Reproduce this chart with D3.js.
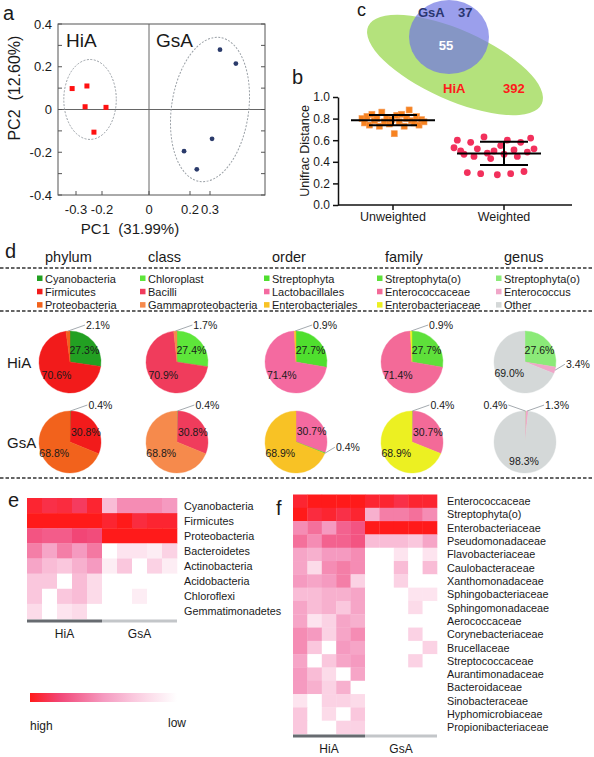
<!DOCTYPE html>
<html><head><meta charset="utf-8">
<script src="https://cdn.jsdelivr.net/npm/d3@7"></script>
<style>
body{margin:0;background:#fff}
svg{font-family:"Liberation Sans",Arial,sans-serif}
</style>
</head><body>
<svg id="c" width="594" height="757"></svg>
<script>
// ---------------- DATA ----------------
// Panel a: PCoA
const pcoaGroups = ["HiA", "GsA"];
const hiaPC1 = [-0.315, -0.258, -0.265, -0.183, -0.231];
const hiaPC2 = [0.098, 0.110, 0.013, 0.010, -0.106];
const gsaPC1 = [0.349, 0.427, 0.310, 0.171, 0.234];
const gsaPC2 = [0.280, 0.215, -0.137, -0.195, -0.280];
const pc1Ticks = [-0.3, -0.2, 0, 0.2, 0.3];
const pc2Ticks = [-0.4, -0.2, 0, 0.2, 0.4];
// confidence ellipses [cx, cy, rx, ry] in PC units
const hiaEllipse = [-0.246, 0.047, 0.104, 0.187];
const gsaEllipse = [0.300, 0.000, 0.190, 0.340];

// Panel b: Unifrac distances
const unifracCats = ["Unweighted", "Weighted"];
const unweightedVals = [0.80, 0.76, 0.82, 0.74, 0.84, 0.78, 0.80, 0.73, 0.86, 0.77, 0.81, 0.75, 0.79, 0.66,
  0.83, 0.77, 0.84, 0.73, 0.80, 0.88, 0.78, 0.76, 0.82, 0.74, 0.79, 0.77];
const weightedVals = [0.53, 0.60, 0.50, 0.47, 0.30, 0.58, 0.45, 0.52, 0.29, 0.63, 0.48, 0.43, 0.50,
  0.28, 0.55, 0.47, 0.60, 0.29, 0.51, 0.45, 0.58, 0.31, 0.49, 0.62, 0.52];
const unifracTicks = [0, 0.2, 0.4, 0.6, 0.8, 1.0];

// Panel c: Venn
const vennSets = ["GsA", "HiA"];
const vennUnique = [37, 392];
const vennShared = 55;

// Panel d: composition pies
const ranks = ["phylum", "class", "order", "family", "genus"];
const rankTaxa = [
  ["Cyanobacteria", "Firmicutes", "Proteobacteria"],
  ["Chloroplast", "Bacilli", "Gammaproteobacteria"],
  ["Streptophyta", "Lactobacillales", "Enterobacteriales"],
  ["Streptophyta(o)", "Enterococcaceae", "Enterobacteriaceae"],
  ["Streptophyta(o)", "Enterococcus", "Other"]
];
const rankColors = [
  ["#22a022", "#f21b1b", "#f2621c"],
  ["#5ee63a", "#f03c5c", "#f68a4c"],
  ["#4fdf2e", "#f46aa0", "#f8c225"],
  ["#5ee03a", "#f36a98", "#ecf022"],
  ["#8bea78", "#f0a6c8", "#d4d8d8"]
];
const pieSamples = ["HiA", "GsA"];
const hiaPct = [[27.3, 70.6, 2.1], [27.4, 70.9, 1.7], [27.7, 71.4, 0.9], [27.7, 71.4, 0.9], [27.6, 3.4, 69.0]];
const gsaPct = [[0.4, 30.8, 68.8], [0.4, 30.8, 68.8], [0.4, 30.7, 68.9], [0.4, 30.7, 68.9], [0.4, 1.3, 98.3]];
// clockwise drawing sequence of the taxa in each GsA pie
const gsaSliceSeq = [[0, 1, 2], [0, 1, 2], [1, 0, 2], [0, 1, 2], [0, 1, 2]];

// Panel e: phylum heatmap (relative intensity 0..1)
const eTaxa = ["Cyanobacteria", "Firmicutes", "Proteobacteria", "Bacteroidetes", "Actinobacteria",
  "Acidobacteria", "Chloroflexi", "Gemmatimonadetes"];
const heatGroups = ["HiA", "GsA"];
const eValues = [
  [0.95, 0.90, 0.92, 0.85, 0.95, 0.35, 0.55, 0.55, 0.55, 0.50],
  [1.00, 1.00, 1.00, 1.00, 1.00, 0.95, 1.00, 0.92, 0.95, 0.95],
  [0.75, 0.72, 0.72, 0.80, 0.78, 1.00, 1.00, 1.00, 1.00, 1.00],
  [0.60, 0.45, 0.60, 0.50, 0.62, 0.00, 0.15, 0.15, 0.10, 0.25],
  [0.45, 0.35, 0.30, 0.40, 0.50, 0.10, 0.30, 0.00, 0.25, 0.10],
  [0.30, 0.30, 0.00, 0.35, 0.20, 0.00, 0.00, 0.00, 0.00, 0.00],
  [0.30, 0.00, 0.30, 0.35, 0.20, 0.00, 0.00, 0.10, 0.00, 0.00],
  [0.20, 0.00, 0.15, 0.20, 0.00, 0.00, 0.00, 0.00, 0.00, 0.00]
];
// Panel f: family heatmap
const fTaxa = ["Enterococcaceae", "Streptophyta(o)", "Enterobacteriaceae", "Pseudomonadaceae",
  "Flavobacteriaceae", "Caulobacteraceae", "Xanthomonadaceae", "Sphingobacteriaceae",
  "Sphingomonadaceae", "Aerococcaceae", "Corynebacteriaceae", "Brucellaceae", "Streptococcaceae",
  "Aurantimonadaceae", "Bacteroidaceae", "Sinobacteraceae", "Hyphomicrobiaceae", "Propionibacteriaceae"];
const fValues = [
  [0.95, 1.00, 1.00, 1.00, 1.00, 0.95, 0.95, 0.90, 0.95, 0.95],
  [1.00, 0.92, 0.95, 0.90, 0.95, 0.40, 0.60, 0.60, 0.65, 0.55],
  [0.55, 0.65, 0.50, 0.70, 0.75, 1.00, 1.00, 1.00, 1.00, 1.00],
  [0.65, 0.55, 0.70, 0.70, 0.75, 0.35, 0.35, 0.35, 0.30, 0.45],
  [0.45, 0.40, 0.50, 0.50, 0.55, 0.00, 0.00, 0.15, 0.00, 0.15],
  [0.45, 0.20, 0.55, 0.60, 0.55, 0.00, 0.00, 0.35, 0.00, 0.35],
  [0.50, 0.45, 0.50, 0.60, 0.25, 0.00, 0.00, 0.25, 0.00, 0.00],
  [0.35, 0.35, 0.40, 0.40, 0.45, 0.00, 0.00, 0.00, 0.15, 0.15],
  [0.45, 0.35, 0.40, 0.30, 0.45, 0.00, 0.00, 0.00, 0.20, 0.00],
  [0.45, 0.15, 0.25, 0.45, 0.40, 0.00, 0.00, 0.00, 0.00, 0.00],
  [0.55, 0.50, 0.25, 0.45, 0.55, 0.00, 0.00, 0.00, 0.25, 0.00],
  [0.55, 0.30, 0.00, 0.50, 0.45, 0.00, 0.00, 0.00, 0.00, 0.25],
  [0.45, 0.00, 0.30, 0.45, 0.50, 0.00, 0.00, 0.00, 0.25, 0.00],
  [0.50, 0.35, 0.20, 0.00, 0.45, 0.00, 0.00, 0.00, 0.00, 0.00],
  [0.50, 0.40, 0.25, 0.40, 0.00, 0.00, 0.00, 0.00, 0.00, 0.00],
  [0.15, 0.00, 0.25, 0.25, 0.20, 0.00, 0.00, 0.00, 0.00, 0.00],
  [0.30, 0.00, 0.20, 0.00, 0.30, 0.00, 0.00, 0.00, 0.00, 0.00],
  [0.30, 0.00, 0.00, 0.25, 0.25, 0.00, 0.00, 0.00, 0.00, 0.00]
];
const scaleEnds = ["high", "low"];

// ---------------- DRAW ----------------
const svg = d3.select("#c");
function txt(g, x, y, s, size, opts = {}) {
  const t = g.append("text").attr("x", x).attr("y", y).text(s).attr("font-size", size)
    .attr("fill", opts.fill || "#1a1a1a");
  if (opts.anchor) t.attr("text-anchor", opts.anchor);
  if (opts.weight) t.attr("font-weight", opts.weight);
  if (opts.base) t.attr("dominant-baseline", opts.base);
  return t;
}

// ===== Panel a =====
const ga = svg.append("g");
const ax = d3.scaleLinear().domain([-0.37, -0.3, -0.2, 0, 0.2, 0.3, 0.57]).range([58, 76, 102, 149, 190, 210, 265]);
const ay = d3.scaleLinear().domain([-0.4, 0.4]).range([195, 24]);
txt(ga, 3, 20, "a", 20);
ga.append("rect").attr("x", ax(-0.37)).attr("y", ay(0.4)).attr("width", ax(0.57) - ax(-0.37))
  .attr("height", ay(-0.4) - ay(0.4)).attr("fill", "none").attr("stroke", "#555").attr("stroke-width", 1);
ga.append("line").attr("x1", ax(0)).attr("x2", ax(0)).attr("y1", ay(0.4)).attr("y2", ay(-0.4)).attr("stroke", "#666");
ga.append("line").attr("x1", ax(-0.37)).attr("x2", ax(0.57)).attr("y1", ay(0)).attr("y2", ay(0)).attr("stroke", "#666");
d3.ticks(-0.4, 0.4, 8).forEach(v => {
  ga.append("line").attr("x1", ax(-0.37)).attr("x2", ax(-0.37) + 4).attr("y1", ay(v)).attr("y2", ay(v)).attr("stroke", "#555");
  ga.append("line").attr("x1", ax(0.57)).attr("x2", ax(0.57) - 4).attr("y1", ay(v)).attr("y2", ay(v)).attr("stroke", "#555");
});
pc2Ticks.forEach(v => txt(ga, 52, ay(v), v === 0 ? "0" : String(v), 13, {anchor: "end", base: "central"}));
pc1Ticks.forEach(v => {
  ga.append("line").attr("x1", ax(v)).attr("x2", ax(v)).attr("y1", ay(-0.4)).attr("y2", ay(-0.4) - 4).attr("stroke", "#555");
  txt(ga, ax(v), 214, v === 0 ? "0" : String(v), 13, {anchor: "middle"});
});
txt(ga, 130, 234, "PC1  (31.99%)", 15, {anchor: "middle"}).style("white-space", "pre");
txt(ga, 0, 0, "PC2  (12.60%)", 16, {anchor: "middle"}).style("white-space", "pre")
  .attr("transform", `translate(20,${ay(0.1)}) rotate(-90)`);
txt(ga, 66, 47, pcoaGroups[0], 19);
txt(ga, 156, 47, pcoaGroups[1], 19);
function drawEll(e, rot) {
  const cx = ax(e[0]), cy = ay(e[1]);
  const rx = (ax(e[0] + e[2]) - ax(e[0] - e[2])) / 2, ry = (ay(e[1] - e[3]) - ay(e[1] + e[3])) / 2;
  ga.append("ellipse").attr("cx", cx).attr("cy", cy).attr("rx", rx).attr("ry", ry)
    .attr("transform", `rotate(${rot},${cx},${cy})`)
    .attr("fill", "none").attr("stroke", "#9aa0a6").attr("stroke-dasharray", "2,1.5").attr("stroke-width", 1);
}
drawEll(hiaEllipse, 0);
drawEll(gsaEllipse, 8);
hiaPC1.forEach((v, i) => ga.append("rect").attr("x", ax(v) - 2.5).attr("y", ay(hiaPC2[i]) - 2.5)
  .attr("width", 5).attr("height", 5).attr("fill", "#ff1111"));
gsaPC1.forEach((v, i) => ga.append("circle").attr("cx", ax(v)).attr("cy", ay(gsaPC2[i])).attr("r", 2.4)
  .attr("fill", "#2b3b6b"));

// ===== Panel c: Venn =====
const gc = svg.append("g");
gc.append("ellipse").attr("cx", 455).attr("cy", 65).attr("rx", 95).attr("ry", 35)
  .attr("transform", "rotate(24,455,65)").attr("fill", "#b4e27c");
gc.append("ellipse").attr("cx", 449).attr("cy", 37).attr("rx", 40).attr("ry", 37)
  .attr("fill", "rgb(112,118,228)").attr("opacity", 0.7);
txt(gc, 357, 16, "c", 18);
txt(gc, 418, 17, vennSets[0], 13, {fill: "#2a3670", weight: "bold"});
txt(gc, 458, 17, String(vennUnique[0]), 13, {fill: "#2a3670", weight: "bold"});
txt(gc, 446, 50, String(vennShared), 13, {fill: "#ffffff", weight: "bold", anchor: "middle"});
txt(gc, 443, 93, vennSets[1], 13, {fill: "#ff1a1a", weight: "bold"});
txt(gc, 503, 93, String(vennUnique[1]), 13, {fill: "#ff1a1a", weight: "bold"});

// ===== Panel b =====
const gb = svg.append("g");
const by = d3.scaleLinear().domain([0, 1]).range([205, 97]);
const bx = d3.scalePoint().domain(unifracCats).range([393, 504]);
txt(gb, 292, 84, "b", 20);
gb.append("g").attr("transform", "translate(338,0)")
  .call(d3.axisLeft(by).tickValues(unifracTicks).tickFormat(d3.format(".1f")).tickSize(5).tickSizeOuter(0))
  .call(g => { g.selectAll("text").attr("font-size", 12).attr("fill", "#1a1a1a").attr("font-family", null);
    g.selectAll("line,path").attr("stroke", "#111").attr("stroke-width", 1.5); });
gb.append("line").attr("x1", 338).attr("x2", 572).attr("y1", by(0)).attr("y2", by(0)).attr("stroke", "#111").attr("stroke-width", 1.5);
unifracCats.forEach(c => {
  gb.append("line").attr("x1", bx(c)).attr("x2", bx(c)).attr("y1", by(0)).attr("y2", by(0) + 5).attr("stroke", "#111").attr("stroke-width", 1.5);
  txt(gb, bx(c), 221, c, 12.5, {anchor: "middle"});
});
txt(gb, 0, 0, "Unifrac Distance", 12.5, {anchor: "middle"}).attr("transform", "translate(309,151) rotate(-90)");
const spreadU = 62, spreadW = 80;
unweightedVals.forEach((v, i) => {
  const x = bx("Unweighted") + (i / (unweightedVals.length - 1) - 0.5) * spreadU;
  gb.append("rect").attr("x", x - 3).attr("y", by(v) - 3).attr("width", 6).attr("height", 6)
    .attr("fill", "#f7821f").attr("stroke", "#f39a55").attr("stroke-width", 0.6);
});
weightedVals.forEach((v, i) => {
  const x = bx("Weighted") - 10 + (i / (weightedVals.length - 1) - 0.5) * spreadW;
  gb.append("circle").attr("cx", x).attr("cy", by(v)).attr("r", 3.4).attr("fill", "#f2305c");
});
[["Unweighted", unweightedVals], ["Weighted", weightedVals]].forEach(([c, vals]) => {
  const m = d3.mean(vals), sd = d3.deviation(vals), cx = bx(c);
  const k = c === "Weighted" ? -5 : 0;
  gb.append("line").attr("x1", cx - 42 + k).attr("x2", cx + 42 + k).attr("y1", by(m)).attr("y2", by(m)).attr("stroke", "#000").attr("stroke-width", 2);
  [m - sd, m + sd].forEach(y => gb.append("line").attr("x1", cx - 24).attr("x2", cx + 24).attr("y1", by(y)).attr("y2", by(y)).attr("stroke", "#000").attr("stroke-width", 2));
  gb.append("line").attr("x1", cx).attr("x2", cx).attr("y1", by(m - sd)).attr("y2", by(m + sd)).attr("stroke", "#000").attr("stroke-width", 2);
});

// ===== Panel d =====
const gd = svg.append("g");
txt(gd, 5, 258, "d", 20);
const colX = [45, 148, 272, 385, 504];
const pieCX = [70, 177, 296, 412, 525];
const pieCY = [362, 442];
const R = 31;
[268, 311, 478].forEach(y => gd.append("line").attr("x1", 0).attr("x2", 594).attr("y1", y).attr("y2", y)
  .attr("stroke", "#333").attr("stroke-width", 1.3).attr("stroke-dasharray", "3.5,2"));
ranks.forEach((r, i) => {
  txt(gd, colX[i], 262, r, 14.5);
  rankTaxa[i].forEach((t, j) => {
    const y = 278.5 + j * 13.3;
    gd.append("rect").attr("x", colX[i] - 8).attr("y", y - 3).attr("width", 5.5).attr("height", 5.5).attr("fill", rankColors[i][j]);
    txt(gd, colX[i], y, t, 11, {base: "central"});
  });
});
pieSamples.forEach((s, k) => txt(gd, 7, pieCY[k], s, 15, {base: "central"}));
const arc = d3.arc().innerRadius(0).outerRadius(R);
const pie = d3.pie().sort(null).value(d => d.v);
ranks.forEach((r, i) => {
  [hiaPct[i], gsaPct[i]].forEach((vals, k) => {
    const seq = k === 0 ? [0, 1, 2] : gsaSliceSeq[i];
    const data = seq.map(j => ({v: vals[j], c: rankColors[i][j]}));
    const g = gd.append("g").attr("transform", `translate(${pieCX[i]},${pieCY[k]})`);
    const arcs = pie(data);
    g.selectAll("path").data(arcs).join("path").attr("d", arc).attr("fill", d => d.data.c)
      .attr("stroke", d => d.data.c).attr("stroke-width", 0.4);
    const small = arcs.filter(a => a.data.v < 5);
    let nSmall = 0;
    arcs.forEach(a => {
      const mid = (a.startAngle + a.endAngle) / 2;
      if (a.data.v >= 5) {
        const rr = 19;
        txt(g, Math.sin(mid) * rr, -Math.cos(mid) * rr, a.data.v.toFixed(1) + "%", 10.5,
          {anchor: "middle", base: "central"});
      } else {
        const side = (small.length > 1 && nSmall === 0) ? -1 : 1;
        nSmall++;
        const x0 = Math.sin(mid) * R, y0 = -Math.cos(mid) * R;
        const lateral = Math.abs(Math.sin(mid)) > 0.7;
        const x1 = x0 + side * (lateral ? 10 : 17), y1 = y0 - 6;
        g.append("polyline").attr("points", `${x0},${y0} ${x1},${y1}`).attr("fill", "none")
          .attr("stroke", "#9aa0a6").attr("stroke-width", 0.9);
        txt(g, x1 + side * 1, y1, a.data.v.toFixed(1) + "%", 10.5,
          {anchor: side > 0 ? "start" : "end", base: "central"});
      }
    });
  });
});

// ===== Heatmaps =====
const heatColor = d3.scaleLinear().domain([0, 0.25, 0.5, 0.8, 1])
  .range(["#ffffff", "#fbd2e4", "#f59ac0", "#f24676", "#ff1a1a"]);
function heatmap(taxa, values, x0, x1, y0, y1, labelX, groupY, fontSize) {
  const g = svg.append("g");
  const hx = d3.scaleBand().domain(d3.range(values[0].length)).range([x0, x1]);
  const hy = d3.scaleBand().domain(taxa).range([y0, y1]);
  taxa.forEach((t, r) => {
    values[r].forEach((v, c) => g.append("rect").attr("x", hx(c)).attr("y", hy(t))
      .attr("width", hx.bandwidth() + 0.3).attr("height", hy.bandwidth() + 0.3).attr("fill", heatColor(v)));
    txt(g, labelX, hy(t) + hy.bandwidth() / 2, t, fontSize, {base: "central"});
  });
  const half = values[0].length / 2;
  g.append("rect").attr("x", x0).attr("y", y1 + 0.5).attr("width", hx(half) - x0).attr("height", 3).attr("fill", "#676b70");
  g.append("rect").attr("x", hx(half)).attr("y", y1 + 0.5).attr("width", x1 - hx(half)).attr("height", 3).attr("fill", "#c3c6c9");
  heatGroups.forEach((gr, k) => txt(g, k === 0 ? (x0 + hx(half)) / 2 : (hx(half) + x1) / 2, groupY, gr, 12, {anchor: "middle"}));
  return g;
}
heatmap(eTaxa, eValues, 27, 177, 498, 619, 184, 638, 10.8);
heatmap(fTaxa, fValues, 293, 437, 494.5, 734, 447, 753, 10.8);
txt(svg, 8, 507, "e", 20);
txt(svg, 276, 515, "f", 20);

// colour legend
const defs = svg.append("defs");
const lg = defs.append("linearGradient").attr("id", "hg");
d3.range(0, 1.001, 0.1).forEach(t => lg.append("stop").attr("offset", t).attr("stop-color", heatColor(1 - t)));
svg.append("rect").attr("x", 30).attr("y", 693).attr("width", 147).attr("height", 9).attr("fill", "url(#hg)");
txt(svg, 30, 730, scaleEnds[0], 12);
txt(svg, 168, 727, scaleEnds[1], 12);
</script>
</body></html>
